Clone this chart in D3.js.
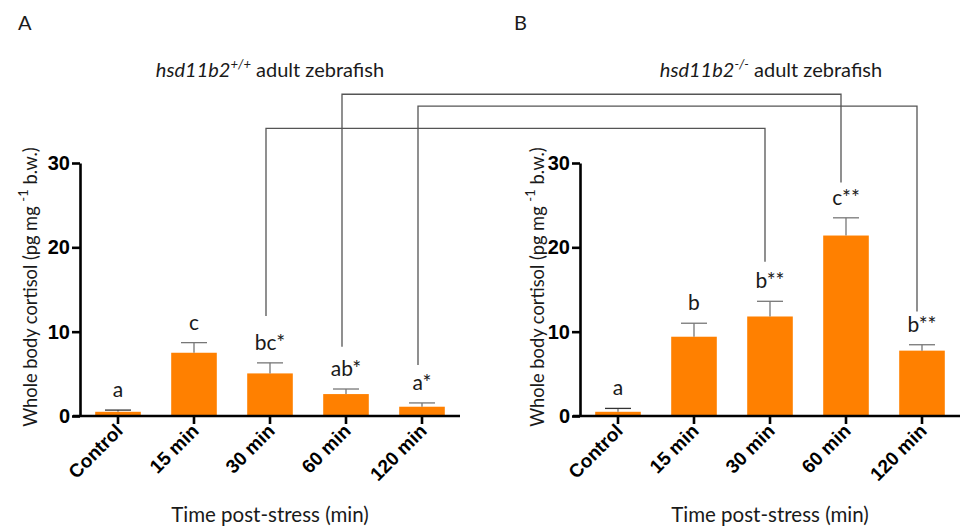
<!DOCTYPE html>
<html>
<head>
<meta charset="utf-8">
<script src="https://d3js.org/d3.v7.min.js"></script>
<style>
	body { margin: 0; background: #fff; }
	svg { display: block; font-family: Lato, "Open Sans", sans-serif; }
	.tick-y text, .tick-x text { font-family: "Liberation Sans", Arial, sans-serif; font-weight: bold; }
</style>
</head>
<body>
<div id="chart"></div>
<script>
// ---- data ----
var categories = ['Control', '15 min', '30 min', '60 min', '120 min'];
var meanA = [0.5, 7.5, 5.05, 2.6, 1.1];
var errA  = [0.2, 1.2, 1.25, 0.6, 0.45];
var lettersA = ['a', 'c', 'bc*', 'ab*', 'a*'];
var meanB = [0.5, 9.4, 11.8, 21.4, 7.75];
var errB  = [0.4, 1.6, 1.8, 2.1, 0.7];
var lettersB = ['a', 'b', 'b**', 'c**', 'b**'];
var yTicks = [0, 10, 20, 30];

// brackets joining panel A to panel B (in y units)
var bracketCats = ['30 min', '60 min', '120 min'];
var bracketTop  = [34.1, 38.15, 36.75];
var bracketEndA = [11.85, 8.2, 6.05];
var bracketEndB = [18.3, 27.7, 12.4];

var W = 962, H = 529;
var orange = '#ff8000';

var svg = d3.select('#chart').append('svg')
	.attr('width', W)
	.attr('height', H);

var scaleY = d3.scaleLinear()
	.domain([0, 30])
	.range([416, 163]);

function panel(opts){
	var scaleX = d3.scaleBand()
		.domain(categories)
		.range(opts.range)
		.paddingInner(0.4)
		.paddingOuter(0.2);

	var g = svg.append('g').attr('class', 'panel');
	var x0 = opts.range[0];

	var data = categories.map(function(c, i){
		return {cat: c, mean: opts.mean[i], err: opts.err[i], letter: opts.letters[i]};
	});

	// bars
	g.selectAll('.bar').data(data).enter().append('rect')
		.attr('class', 'bar')
		.attr('x', function(d) { return scaleX(d.cat); })
		.attr('y', function(d) { return scaleY(d.mean); })
		.attr('width', scaleX.bandwidth())
		.attr('height', function(d) { return scaleY(0) - scaleY(d.mean); })
		.style('fill', orange);

	// error bars (upper only)
	var eb = g.selectAll('.err').data(data).enter().append('g').attr('class', 'err')
		.attr('transform', function(d) { return 'translate(' + (scaleX(d.cat) + scaleX.bandwidth() / 2) + ',0)'; });
	eb.append('line')
		.attr('x1', 0).attr('x2', 0)
		.attr('y1', function(d) { return scaleY(d.mean); })
		.attr('y2', function(d) { return scaleY(d.mean + d.err); })
		.style('stroke', '#777').style('stroke-width', 1.3);
	eb.append('line')
		.attr('x1', -13).attr('x2', 13)
		.attr('y1', function(d) { return scaleY(d.mean + d.err); })
		.attr('y2', function(d) { return scaleY(d.mean + d.err); })
		.style('stroke', function(d, i) { return i == 0 ? '#333' : '#777'; })
		.style('stroke-width', 1.3);

	// letters
	g.selectAll('.letter').data(data).enter().append('text')
		.attr('class', 'letter')
		.attr('x', function(d) { return scaleX(d.cat) + scaleX.bandwidth() / 2; })
		.attr('y', function(d) { return scaleY(d.mean + d.err) - 13; })
		.attr('text-anchor', 'middle')
		.style('font-size', '21px')
		.style('fill', '#1a1a1a')
		.text(function(d) { return d.letter; });

	// y axis
	var axisY = d3.axisLeft(scaleY)
		.tickValues(yTicks)
		.tickSize(8)
		.tickPadding(2)
		.tickSizeOuter(0);
	var gy = g.append('g')
		.attr('class', 'tick-y')
		.attr('transform', 'translate(' + x0 + ',0)')
		.call(axisY);
	gy.select('.domain').style('stroke', '#000').style('stroke-width', 2.6);
	gy.selectAll('.tick line').style('stroke', '#000').style('stroke-width', 2.6);
	gy.selectAll('.tick text').style('font-size', '20px').style('fill', '#000');

	// x axis
	var axisX = d3.axisBottom(scaleX)
		.tickSize(8)
		.tickSizeOuter(0)
		.tickPadding(4);
	var gx = g.append('g')
		.attr('class', 'tick-x')
		.attr('transform', 'translate(0,' + scaleY(0) + ')')
		.call(axisX);
	gx.select('.domain').remove();
	gx.append('line')
		.attr('x1', x0 - 7).attr('x2', opts.range[1])
		.attr('y1', 0).attr('y2', 0)
		.style('stroke', '#000').style('stroke-width', 2.6);
	gx.selectAll('.tick line').style('stroke', '#000').style('stroke-width', 2.6);
	gx.selectAll('.tick text')
		.attr('text-anchor', 'end')
		.attr('dy', null)
		.attr('y', 0)
		.attr('transform', 'translate(6,16) rotate(-45)')
		.style('font-size', '19px')
		.style('fill', '#000');

	// y title
	var yt = g.append('text')
		.attr('transform', 'translate(' + opts.yTitleX + ',' + 287 + ') rotate(-90)')
		.attr('text-anchor', 'middle')
		.style('font-size', '18.3px')
		.style('fill', '#1a1a1a');
	yt.append('tspan').text('Whole body cortisol (pg mg ');
	yt.append('tspan').attr('dy', -9).style('font-size', '13px').text('-1');
	yt.append('tspan').attr('dy', 9).text(' b.w.)');

	// x title
	g.append('text')
		.attr('x', (opts.range[0] + opts.range[1]) / 2)
		.attr('y', 522)
		.attr('text-anchor', 'middle')
		.style('font-size', '20.5px')
		.style('fill', '#1a1a1a')
		.text('Time post-stress (min)');

	// panel title
	var t = g.append('text')
		.attr('x', opts.titleX)
		.attr('y', 77)
		.attr('text-anchor', 'middle')
		.style('font-size', '20px')
		.style('fill', '#1a1a1a');
	t.append('tspan').style('font-style', 'italic').text('hsd11b2');
	t.append('tspan').attr('dy', -8).style('font-style', 'italic').style('font-size', '13px').text(opts.sup);
	t.append('tspan').attr('dy', 8).text(' adult zebrafish');

	// panel letter
	g.append('text')
		.attr('x', opts.letterX)
		.attr('y', 30)
		.style('font-size', '20px')
		.style('fill', '#1a1a1a')
		.text(opts.letter);

	return scaleX;
}

var xA = panel({range: [80, 460], mean: meanA, err: errA, letters: lettersA,
	yTitleX: 37, titleX: 270, sup: '+/+', letter: 'A', letterX: 18});
var xB = panel({range: [580, 960], mean: meanB, err: errB, letters: lettersB,
	yTitleX: 544, titleX: 771, sup: '-/-', letter: 'B', letterX: 514});

// ---- brackets ----
var brackets = bracketCats.map(function(c, i){
	return {cat: c, top: bracketTop[i], endA: bracketEndA[i], endB: bracketEndB[i]};
});

svg.append('g').attr('class', 'brackets')
	.selectAll('path').data(brackets).enter().append('path')
	.attr('d', function(d) {
		var xa = xA(d.cat) + xA.bandwidth() / 2 - 4;
		var xb = xB(d.cat) + xB.bandwidth() / 2 - 5;
		return 'M' + xa + ',' + scaleY(d.endA) +
			'V' + scaleY(d.top) +
			'H' + xb +
			'V' + scaleY(d.endB);
	})
	.style('fill', 'none')
	.style('stroke', '#555')
	.style('stroke-width', 1.3);
</script>
</body>
</html>
